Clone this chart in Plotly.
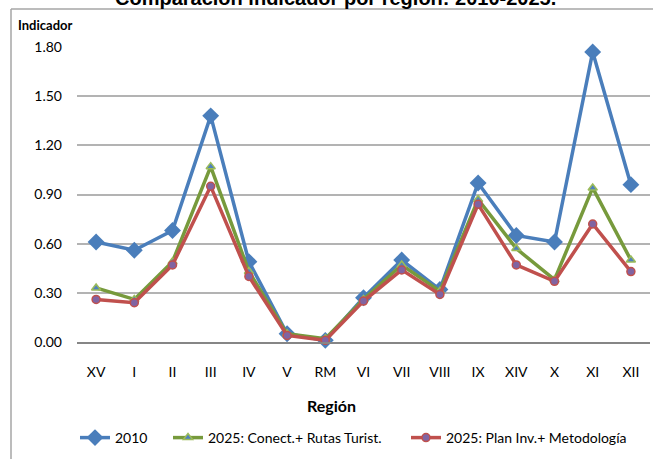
import plotly.graph_objects as go

regions = ["XV", "I", "II", "III", "IV", "V", "RM", "VI", "VII", "VIII", "IX", "XIV", "X", "XI", "XII"]
serie_2010 = [0.61, 0.56, 0.68, 1.38, 0.49, 0.05, 0.01, 0.27, 0.50, 0.32, 0.97, 0.65, 0.61, 1.77, 0.96]
serie_conect = [0.33, 0.26, 0.49, 1.07, 0.43, 0.05, 0.02, 0.26, 0.47, 0.31, 0.87, 0.57, 0.38, 0.94, 0.50]
serie_plan = [0.26, 0.24, 0.47, 0.95, 0.40, 0.04, 0.01, 0.25, 0.44, 0.29, 0.84, 0.47, 0.37, 0.72, 0.43]
y_ticks = [0.0, 0.3, 0.6, 0.9, 1.2, 1.5, 1.8]
y_tick_labels = ["0.00", "0.30", "0.60", "0.90", "1.20", "1.50", "1.80"]
names = ["2010", "2025: Conect.+ Rutas Turist.", "2025: Plan Inv.+ Metodología"]

W, H = 653, 459
L, R, T, B = 77, 650, 47, 342
PW, PH = R - L, B - T


def px(x):
    return (x - L) / PW


def py(y):
    return (B - y) / PH


FONT = "Lato"

fig = go.Figure()
fig.add_trace(go.Scatter(
    x=regions, y=serie_2010, name=names[0], mode="lines+markers", legend="legend",
    line=dict(color="#4A7EBB", width=3.5),
    marker=dict(symbol="diamond", size=13, color="#4A7EBB", line=dict(color="#4A7EBB", width=0)),
    cliponaxis=False,
))
fig.add_trace(go.Scatter(
    x=regions, y=serie_conect, name=names[1], mode="lines+markers", legend="legend2",
    line=dict(color="#779A3C", width=3.5),
    marker=dict(symbol="triangle-up", size=8, color="#4F81BD", line=dict(color="#9BBB59", width=1.5)),
    cliponaxis=False,
))
fig.add_trace(go.Scatter(
    x=regions, y=serie_plan, name=names[2], mode="lines+markers", legend="legend3",
    line=dict(color="#C0504D", width=3.5),
    marker=dict(symbol="circle", size=8, color="#8064A2", line=dict(color="#C0504D", width=1.5)),
    cliponaxis=False,
))


def leg(xpix):
    return dict(
        orientation="h", x=px(xpix), xanchor="left", y=py(438), yanchor="middle",
        font=dict(family=FONT, size=14, color="black"),
        bgcolor="rgba(0,0,0,0)", itemwidth=30,
    )


fig.update_layout(
    width=W, height=H,
    margin=dict(l=L, r=W - R, t=T, b=H - B),
    paper_bgcolor="white", plot_bgcolor="white",
    font=dict(family=FONT, size=14, color="black"),
    showlegend=True,
    legend=leg(75),
    legend2=leg(168),
    legend3=leg(406),
    xaxis=dict(
        type="category", categoryorder="array", categoryarray=regions,
        showgrid=False, showline=True, linecolor="#868686", linewidth=2,
        ticks="", ticklabelstandoff=16, tickfont=dict(family=FONT, size=14),
        zeroline=False, range=[-0.5, len(regions) - 0.5],
    ),
    yaxis=dict(
        range=[0, 1.8], tickvals=y_ticks, ticktext=y_tick_labels,
        showgrid=True, gridcolor="#B3B3B3", gridwidth=1.5,
        showline=False, zeroline=False, ticks="", ticklabelstandoff=14,
        tickfont=dict(family=FONT, size=14),
    ),
    annotations=[
        dict(text="<b>Comparación indicador por región: 2010-2025.</b>", x=px(335), y=py(-2),
             xref="paper", yref="paper", xanchor="center", yanchor="middle", showarrow=False,
             font=dict(family="Liberation Sans", size=20, color="black")),
        dict(text="<b>Indicador</b>", x=px(16), y=py(25), xref="paper", yref="paper",
             xanchor="left", yanchor="middle", showarrow=False,
             font=dict(family=FONT, size=13, color="black")),
        dict(text="<b>Región</b>", x=px(331), y=py(405), xref="paper", yref="paper",
             xanchor="center", yanchor="middle", showarrow=False,
             font=dict(family=FONT, size=16, color="black")),
    ],
    shapes=[
        dict(type="line", xref="paper", yref="paper", x0=px(11), x1=px(11), y0=py(9), y1=py(480),
             line=dict(color="#A6A6A6", width=1.5)),
        dict(type="line", xref="paper", yref="paper", x0=px(11), x1=px(700), y0=py(9), y1=py(9),
             line=dict(color="#A6A6A6", width=1.5)),
    ],
)

fig.write_html("out.html", config={"displayModeBar": False},
               post_script="document.body.style.margin='0';document.body.style.overflow='hidden';")
